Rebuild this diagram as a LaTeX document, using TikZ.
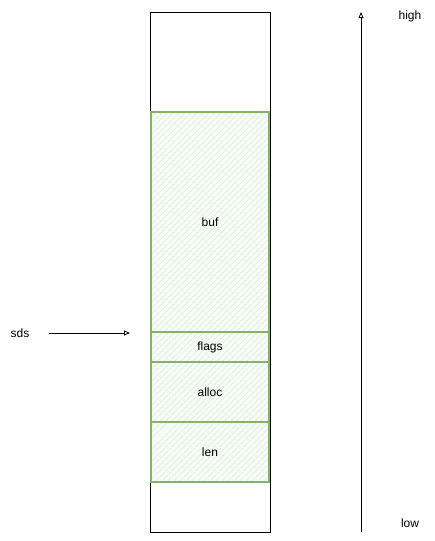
\documentclass[tikz,border=0pt]{standalone}
\usepackage{fontspec}
\setmainfont{Liberation Sans}
\usetikzlibrary{arrows.meta,patterns.meta,positioning}
\definecolor{fieldline}{HTML}{82B366}
\definecolor{fieldfill}{HTML}{F7FBF5}
\definecolor{hatch}{HTML}{D5E8D4}
\tikzset{
  lbl/.style={font=\fontsize{12}{14}\selectfont},
  field/.style={draw=fieldline, line width=1.1pt, inner sep=0pt, outer sep=0pt,
    minimum width=118pt, preaction={fill=fieldfill},
    pattern={Lines[angle=45,distance=4pt,line width=0.6pt]}, pattern color=hatch, lbl},
  ptr/.style={-{Triangle[open,length=6pt,width=5pt]}, line width=0.8pt},
}
\begin{document}
\begin{tikzpicture}[x=1pt,y=-1pt]
\useasboundingbox (0,0) rectangle (435,541);
% memory block
\node[draw, line width=0.9pt, inner sep=0pt, minimum width=120pt, minimum height=520pt] (mem) at (210,272) {};
% sds header fields and buffer
\node[field, minimum height=220pt] (buf) at (210,222) {buf};
\node[field, minimum height=30pt] (flags) at (210,347) {flags};
\node[field, minimum height=60pt] (alloc) at (210,392) {alloc};
\node[field, minimum height=60pt] (len) at (210,452) {len};
% pointer
\node[lbl] (sds) at (20,333) {sds};
\coordinate (tip) at (130,333);
\draw[ptr] ([xshift=16pt]sds.east) -- (tip);
% address direction
\coordinate (lowend) at (361,532);
\coordinate (highend) at (361,12);
\draw[ptr] (lowend) -- (highend);
\node[lbl] (high) at (410,16) {high};
\node[lbl] (low) at (410,523) {low};
\end{tikzpicture}
\end{document}
